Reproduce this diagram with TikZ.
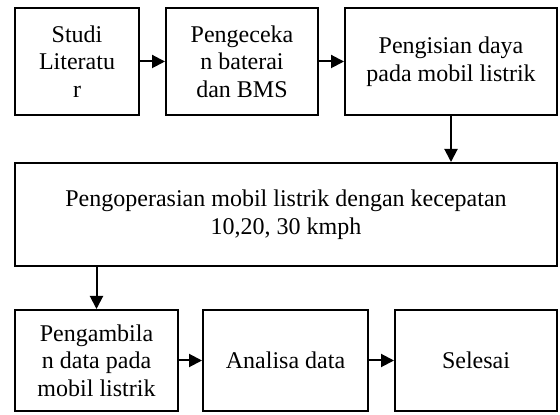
\documentclass[tikz,border=0pt]{standalone}
\usepackage{fontspec}
\setmainfont{Liberation Serif}
\usetikzlibrary{arrows.meta}
\tikzset{stepnode/.style={rectangle,draw,line width=1pt,align=center,inner sep=0pt,font=\fontsize{12}{13.8}\selectfont}}
\tikzset{flowarrow/.style={line width=1pt,-{Triangle[length=6.5pt,width=6.5pt]}}}

\begin{document}
\begin{tikzpicture}[x=0.5pt,y=-0.5pt]
\useasboundingbox (0,0) rectangle (560,415);

% nodes
\node [style = stepnode, minimum width=62pt, minimum height=53.5pt] (studi) at (77, 61.5) {Studi\\Literatu\\r};
\node [style = stepnode, minimum width=76pt, minimum height=53.5pt] (cek) at (242, 61.5) {Pengeceka\\n baterai\\dan BMS};
\node [style = stepnode, minimum width=106pt, minimum height=53.5pt] (isi) at (451, 61.5) {Pengisian daya\\pada mobil listrik};
\node [style = stepnode, minimum width=271pt, minimum height=51.5pt] (operasi) at (286, 214.5) {Pengoperasian mobil listrik dengan kecepatan\\10,20, 30 kmph};
\node [style = stepnode, minimum width=81.5pt, minimum height=50.5pt] (ambil) at (96.5, 360.5) {Pengambila\\n data pada\\mobil listrik};
\node [style = stepnode, minimum width=82.5pt, minimum height=50.5pt] (analisa) at (285.5, 360.5) {Analisa data};
\node [style = stepnode, minimum width=81pt, minimum height=50.5pt] (selesai) at (476, 360.5) {Selesai};

% edges
\draw [style = flowarrow] (studi) to (cek);
\draw [style = flowarrow] (cek) to (isi);
\draw [style = flowarrow] (isi.south) to (isi.south |- operasi.north);
\draw [style = flowarrow] (operasi.south -| ambil.north) to (ambil.north);
\draw [style = flowarrow] (ambil) to (analisa);
\draw [style = flowarrow] (analisa) to (selesai);
\end{tikzpicture}
\end{document}
